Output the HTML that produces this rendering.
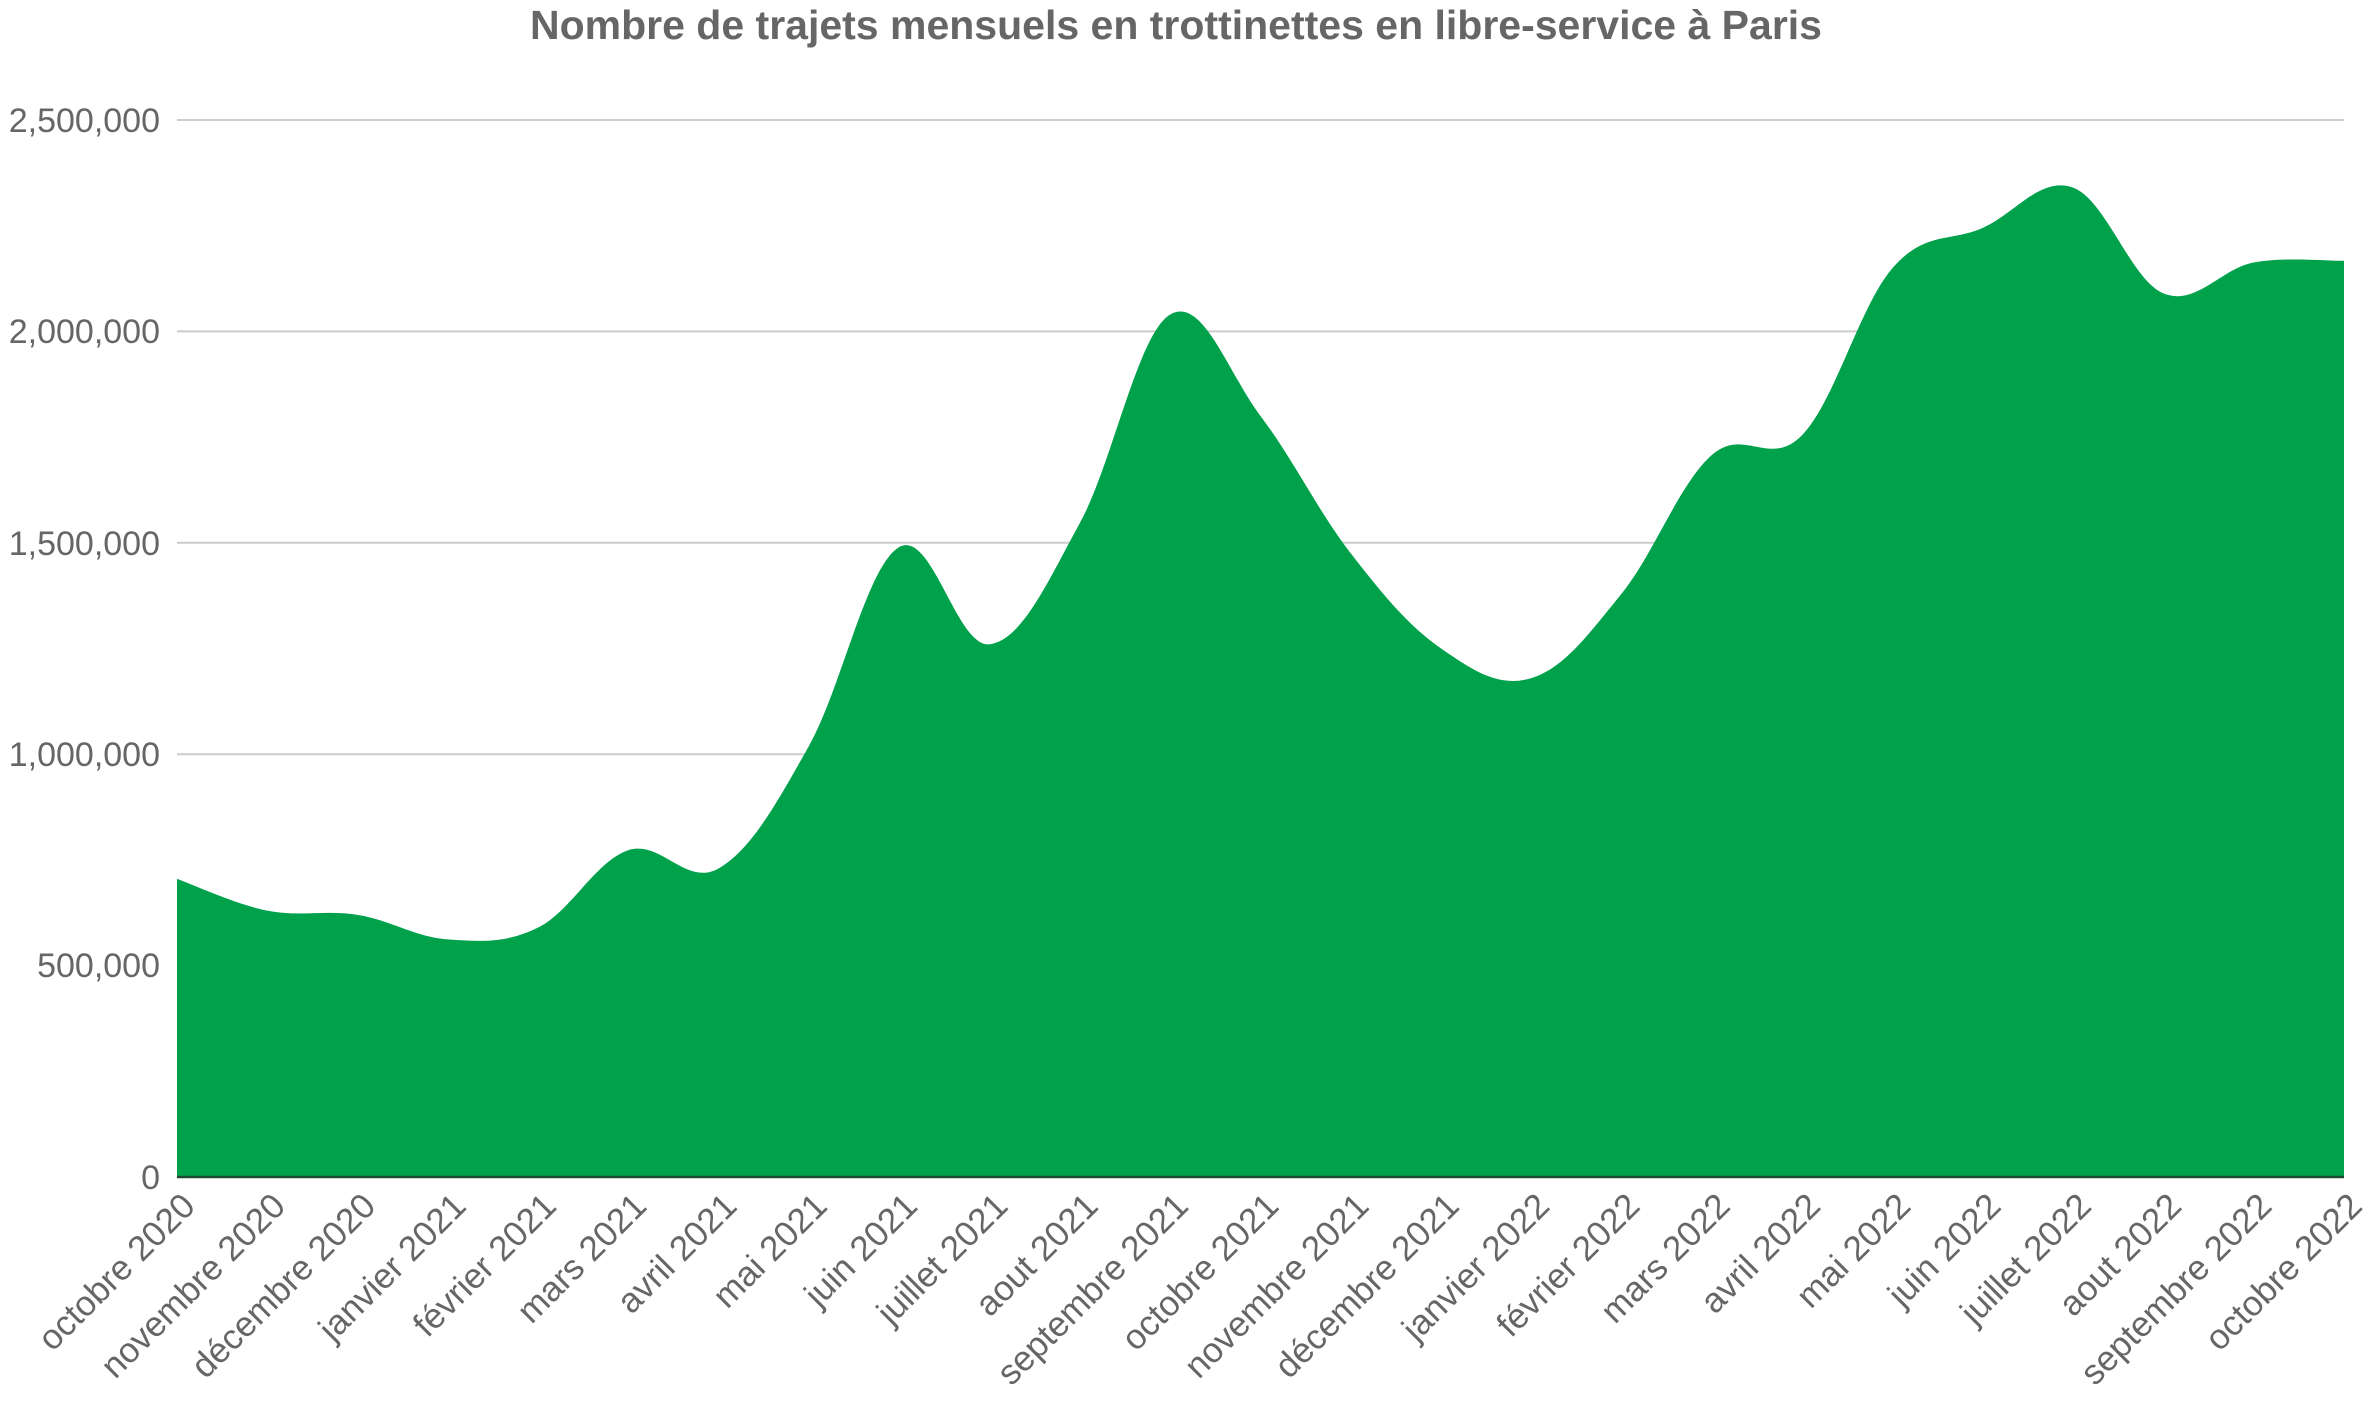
<!DOCTYPE html>
<html><head><meta charset="utf-8"><style>
body{margin:0;background:#fff;}
svg{display:block;}
text{font-family:"Liberation Sans",Arial,sans-serif;fill:#666;}
</style></head><body>
<svg id="s" width="2372" height="1406" viewBox="0 0 2372 1406" xmlns="http://www.w3.org/2000/svg">
<text x="1176" y="39" text-anchor="middle" font-size="41" font-weight="bold" fill="#666">Nombre de trajets mensuels en trottinettes en libre-service à Paris</text>
<g stroke="#cccccc" stroke-width="2">
<line x1="177" x2="2344" y1="120" y2="120"/>
<line x1="177" x2="2344" y1="331.4" y2="331.4"/>
<line x1="177" x2="2344" y1="542.8" y2="542.8"/>
<line x1="177" x2="2344" y1="754.2" y2="754.2"/>
<line x1="177" x2="2344" y1="965.6" y2="965.6"/>
</g>
<g font-size="34" text-anchor="end">
<text x="160" y="132">2,500,000</text>
<text x="160" y="343">2,000,000</text>
<text x="160" y="555">1,500,000</text>
<text x="160" y="766">1,000,000</text>
<text x="160" y="977">500,000</text>
<text x="160" y="1189">0</text>
</g>
<path id="area" fill="#00a14b" d=""/>
<line x1="177" x2="2344" y1="1177" y2="1177" stroke="#1f4a32" stroke-width="2.5"/>
<g id="labels" font-size="35" text-anchor="end"></g>
</svg>
<script>
var v=[705,630,620,562,590,773,730,1020,1490,1260,1547,2040,1800,1475,1250,1180,1380,1708,1755,2150,2245,2340,2090,2163,2167];
var names=["octobre 2020","novembre 2020","décembre 2020","janvier 2021","février 2021","mars 2021","avril 2021","mai 2021","juin 2021","juillet 2021","aout 2021","septembre 2021","octobre 2021","novembre 2021","décembre 2021","janvier 2022","février 2022","mars 2022","avril 2022","mai 2022","juin 2022","juillet 2022","aout 2022","septembre 2022","octobre 2022"];
var x0=177,dx=(2344-177)/24,y0=1177,k=211.4/500;
var p=v.map(function(d,i){return [x0+dx*i,y0-d*k];});
var d="M"+x0+","+y0+" L"+p[0][0]+","+p[0][1];
for(var i=0;i<p.length-1;i++){
 var a=p[Math.max(i-1,0)],b=p[i],c=p[i+1],e=p[Math.min(i+2,p.length-1)];
 var t=0.18;
 var c1=[b[0]+(c[0]-a[0])*t,b[1]+(c[1]-a[1])*t];
 var c2=[c[0]-(e[0]-b[0])*t,c[1]-(e[1]-b[1])*t];
 d+=" C"+c1[0]+","+c1[1]+" "+c2[0]+","+c2[1]+" "+c[0]+","+c[1];
}
d+=" L2344,"+y0+" Z";
document.getElementById("area").setAttribute("d",d);
var g=document.getElementById("labels"),ns="http://www.w3.org/2000/svg";
names.forEach(function(n,i){
 var x=x0+dx*i+20,y=1208;
 var t=document.createElementNS(ns,"text");
 t.setAttribute("x",x);t.setAttribute("y",y);
 t.setAttribute("transform","rotate(-45 "+x+" "+y+")");
 t.textContent=n;g.appendChild(t);
});
</script>
</body></html>
